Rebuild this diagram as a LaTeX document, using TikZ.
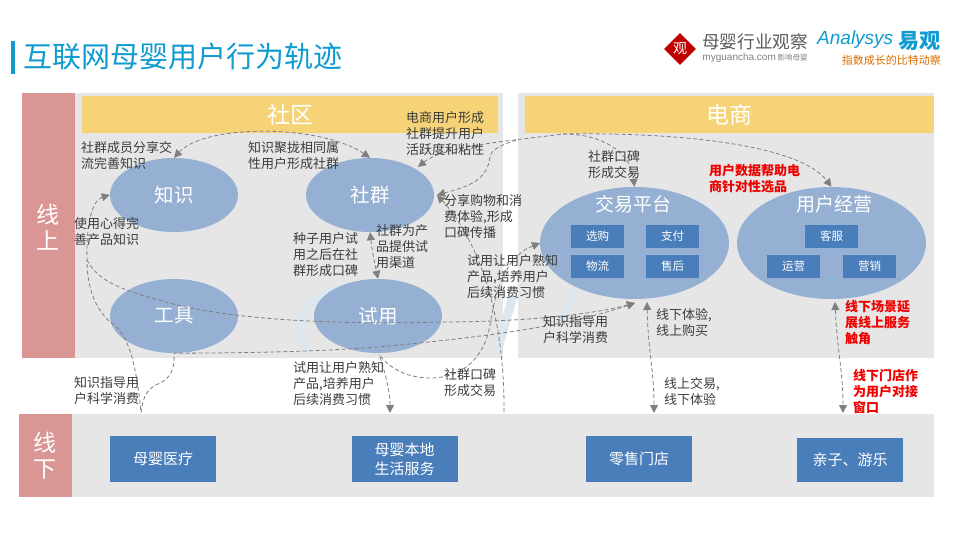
\documentclass[tikz,border=0pt]{standalone}
\usepackage{fontspec}
\setmainfont{Noto Sans CJK SC}
\newfontfamily\latinfont{Liberation Sans}
\definecolor{BarPink}{HTML}{DA9694}
\definecolor{PanelGray}{HTML}{E6E6E6}
\definecolor{HeadYellow}{HTML}{F5D376}
\definecolor{BallBlue}{HTML}{95B0D2}
\definecolor{BoxBlue}{HTML}{4A7EBB}
\definecolor{LineGray}{HTML}{7F7F7F}
\definecolor{TextDark}{HTML}{3C3C3C}
\definecolor{TitleBlue}{HTML}{0F9BD0}
\definecolor{MarkPale}{HTML}{DCE7EF}
\definecolor{HotRed}{HTML}{F00000}
\usetikzlibrary{arrows.meta,positioning,shapes.geometric}
\tikzset{
  head/.style={text=white,font=\fontsize{23}{26}\selectfont,align=center},
  ball/.style={ellipse,fill=BallBlue,inner sep=0pt,minimum width=128pt,minimum height=74pt,text=white,font=\fontsize{19.5}{22}\selectfont},
  bigball/.style={ellipse,fill=BallBlue,inner sep=0pt,minimum width=189pt,minimum height=112pt},
  tag/.style={fill=BoxBlue,text=white,inner sep=0pt,minimum width=53pt,minimum height=23pt,font=\fontsize{11.5}{14}\selectfont},
  place/.style={fill=BoxBlue,text=white,inner sep=0pt,minimum width=106pt,minimum height=46pt,align=center,font=\fontsize{15}{19}\selectfont},
  note/.style={anchor=west,inner sep=0pt,align=left,text=TextDark,font=\fontsize{13}{16}\selectfont},
  hot/.style={note,text=HotRed,font=\fontsize{13}{16}\selectfont\bfseries},
  flow/.style={draw=LineGray,dash pattern=on 4pt off 2.5pt,line width=0.8pt,>={Triangle[length=8pt,width=8pt]},<->},
  oneflow/.style={flow,<-},
}
\begin{document}
\begin{tikzpicture}[x=1pt,y=-1pt]
  \useasboundingbox (0,0) rectangle (960,540);
  % title and logos
  \fill[TitleBlue] (11,41) rectangle (15,74);
  \node[anchor=west,inner sep=0pt,text=TitleBlue,font=\fontsize{29}{32}\selectfont] (title) at (23,57) {互联网母婴用户行为轨迹};
  \node[diamond,fill=red!75!black,inner sep=0pt,minimum width=32pt,minimum height=32pt,text=white,font=\fontsize{14}{14}\selectfont] (logomark) at (680,49) {观};
  \node[inner sep=0pt,text=black!65,font=\fontsize{17.6}{20}\selectfont] (logoname) at (755,42) {母婴行业观察};
  \node[inner sep=0pt,text=black!50,font=\fontsize{10}{10}\selectfont] (logourl) at (755,58) {\latinfont myguancha.com\,\fontsize{7.5}{8}\selectfont\rmfamily 影响母婴};
  \node[anchor=west,inner sep=0pt,text=TitleBlue,font=\fontsize{19}{22}\selectfont\latinfont\itshape] (logoalt) at (817,40) {Analysys};
  \node[anchor=west,inner sep=0pt,text=TitleBlue,font=\fontsize{21}{22}\selectfont\bfseries] (logoyi) at (898,41) {易观};
  \node[anchor=east,inner sep=0pt,text=orange!85!black,font=\fontsize{11}{11}\selectfont] (logoslogan) at (941,60) {指数成长的比特动察};

  % panels
  \fill[PanelGray] (75,93) rectangle (503,358);
  \fill[PanelGray] (518,93) rectangle (934,358);
  \fill[PanelGray] (72,414) rectangle (934,497);
  \fill[BarPink] (22,93) rectangle (75,358);
  \fill[BarPink] (19,414) rectangle (72,497);
  \fill[HeadYellow] (82,96) rectangle (498,133);
  \fill[HeadYellow] (525,96) rectangle (934,133);
  \node[head] (online) at (48,227) {线\\上};
  \node[head] (offline) at (45,456) {线\\下};
  \node[head] (community) at (290,115) {社区};
  \node[head] (shop) at (729,115) {电商};

  % watermark
  \draw[MarkPale,line width=7pt] (306,350) .. controls (285,300) and (335,278) .. (395,288);
  \draw[MarkPale,line width=9pt] (513,296) -- (497,352);
  \draw[MarkPale,line width=7pt] (575,290) -- (562,320);

  % balls
  \node[ball] (zhishi) at (174,195) {知识};
  \node[ball] (shequn) at (370,195) {社群};
  \node[ball] (gongju) at (174,316) {工具};
  \node[ball] (shiyong) at (378,316) {试用};
  \node[bigball] (jiaoyi) at (634.5,243) {};
  \node[bigball] (jingying) at (831.5,243) {};
  \node[text=white,inner sep=0pt,font=\fontsize{19}{22}\selectfont] (jiaoyitxt) at (633,204) {交易平台};
  \node[text=white,inner sep=0pt,font=\fontsize{19}{22}\selectfont] (jingyingtxt) at (834,204) {用户经营};

  \node[tag] (xuangou) at (597.5,236) {选购};
  \node[tag] (zhifu) at (672.5,236) {支付};
  \node[tag] (wuliu) at (597.5,266.5) {物流};
  \node[tag] (shouhou) at (672.5,266.5) {售后};
  \node[tag] (kefu) at (831.5,236) {客服};
  \node[tag] (yunying) at (793.5,266.5) {运营};
  \node[tag] (yingxiao) at (869.5,266.5) {营销};

  \node[place] (yiliao) at (163,459) {母婴医疗};
  \node[place] (bendi) at (404.5,459) {母婴本地\\生活服务};
  \node[place] (lingshou) at (639,459) {零售门店};
  \node[place,minimum height=44pt] (qinzi) at (850,460) {亲子、游乐};

  % free ends
  \coordinate (shequnne) at (418,167);
  \coordinate (shequne) at (437,195);
  \coordinate (shiyongs) at (379,354);
  \coordinate (jiaoyisw) at (540,243);
  \coordinate (jiaoyis) at (635,303);
  \coordinate (jiaoyiup) at (647,302);
  \coordinate (jingyingup) at (835,302);
  \coordinate (yiliaotop) at (141,413);
  \coordinate (bendileft) at (390,413);
  \coordinate (gaptop) at (504,413);
  \coordinate (shoptop) at (654,413);
  \coordinate (qinzitop) at (843,413);
  \coordinate (split) at (563,134);
  \coordinate (bend) at (517,140);
  \coordinate (leftbend) at (87,260);

  % flows
  \draw[flow] (zhishi.north) .. controls (205,124) and (320,124) .. (shequn.north);
  \draw[oneflow] (shequnne) .. controls (445,145) and (520,140) .. (split);
  \draw[flow,->] (split) .. controls (600,134) and (630,150) .. (jiaoyi.north);
  \draw[flow,->] (split) .. controls (680,132) and (800,145) .. (jingying.north);
  \draw[oneflow] (shequne) .. controls (470,186) and (487,180) .. (490,157) .. controls (491,150) and (500,145) .. (bend);
  \draw[oneflow] (shequne) .. controls (465,225) and (505,290) .. (gaptop);
  \draw[oneflow] (jiaoyisw) .. controls (510,255) and (497,280) .. (490,325) .. controls (485,355) and (465,378) .. (430,378) .. controls (410,378) and (390,370) .. (shiyongs);
  \draw[flow] (shequn.south) .. controls (372,250) and (374,260) .. (shiyong.north);
  \draw[oneflow] (bendileft) .. controls (390,392) and (386,375) .. (shiyongs);
  \draw[flow] (jiaoyiup) .. controls (648,350) and (654,370) .. (shoptop);
  \draw[flow] (jingyingup) .. controls (837,350) and (843,370) .. (qinzitop);
  \draw[oneflow] (zhishi.west) .. controls (92,200) and (86,225) .. (leftbend) .. controls (87,295) and (100,315) .. (115,326) .. controls (130,338) and (137,370) .. (yiliaotop);
  \draw[oneflow] (jiaoyis) .. controls (590,315) and (520,322) .. (440,322) .. controls (340,325) and (240,320) .. (177,305) .. controls (130,292) and (100,285) .. (leftbend);
  \draw[oneflow] (jiaoyis) .. controls (570,325) and (500,335) .. (400,345) .. controls (330,352) and (240,353) .. (gongju.south) .. controls (175,370) and (170,378) .. (160,383) .. controls (148,388) and (143,395) .. (yiliaotop);

  % notes
  \node[note] (n1) at (81,156) {社群成员分享交\\流完善知识};
  \node[note] (n2) at (74,232) {使用心得完\\善产品知识};
  \node[note] (n3) at (248,156) {知识聚拢相同属\\性用户形成社群};
  \node[note] (n4) at (406,134) {电商用户形成\\社群提升用户\\活跃度和粘性};
  \node[note] (n5) at (444,217) {分享购物和消\\费体验,形成\\口碑传播};
  \node[note] (n6) at (293,255) {种子用户试\\用之后在社\\群形成口碑};
  \node[note] (n7) at (376,247) {社群为产\\品提供试\\用渠道};
  \node[note] (n8) at (467,277) {试用让用户熟知\\产品,培养用户\\后续消费习惯};
  \node[note] (n9) at (543,330) {知识指导用\\户科学消费};
  \node[note] (n10) at (588,165) {社群口碑\\形成交易};
  \node[hot] (n11) at (709,179) {用户数据帮助电\\商针对性选品};
  \node[note] (n12) at (656,323) {线下体验,\\线上购买};
  \node[hot] (n13) at (845,323) {线下场景延\\展线上服务\\触角};
  \node[note] (n14) at (74,391) {知识指导用\\户科学消费};
  \node[note] (n15) at (293,384) {试用让用户熟知\\产品,培养用户\\后续消费习惯};
  \node[note] (n16) at (444,383) {社群口碑\\形成交易};
  \node[note] (n17) at (664,391) {线上交易,\\线下体验};
  \node[hot] (n18) at (853,391) {线下门店作\\为用户对接\\窗口};
\end{tikzpicture}
\end{document}
